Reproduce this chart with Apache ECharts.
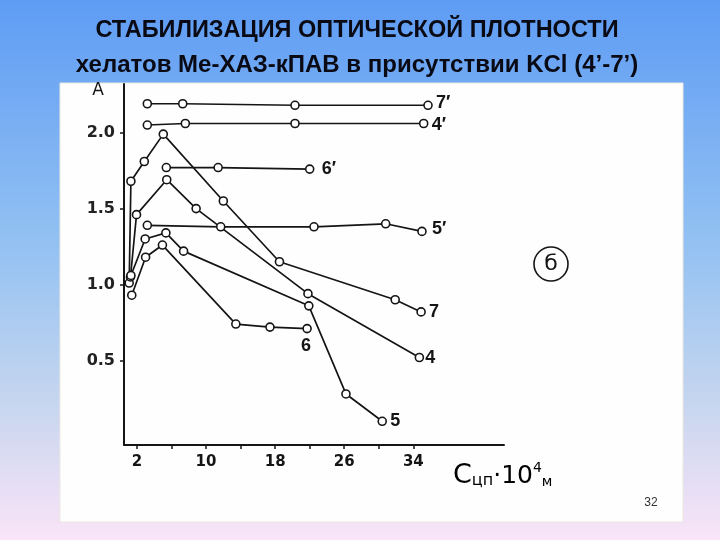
<!DOCTYPE html>
<html><head><meta charset="utf-8">
<script src="https://cdn.jsdelivr.net/npm/echarts@6/dist/echarts.min.js"></script>
<style>html,body{margin:0;padding:0;}#c{width:720px;height:540px;}</style>
</head><body><div id="c"></div>
<script>
// ---- data (x: Сцп·10^4 М, y: optical density A) ----
const s7p = [[3.2,2.19],[7.3,2.19],[20.3,2.18],[35.7,2.18]];
const s4p = [[3.2,2.05],[7.6,2.06],[20.3,2.06],[35.2,2.06]];
const s6p = [[5.4,1.77],[11.4,1.77],[22.0,1.76]];
const s5p = [[3.2,1.39],[11.7,1.38],[22.5,1.38],[30.8,1.40],[35.0,1.35]];
const s7  = [[1.1,1.01],[1.3,1.68],[2.85,1.81],[5.05,1.99],[12.0,1.55],[18.5,1.15],[31.9,0.90],[34.9,0.82]];
const s4  = [[1.25,1.05],[1.95,1.46],[5.45,1.69],[8.85,1.50],[21.8,0.94],[34.7,0.52]];
const s5  = [[1.3,1.06],[2.95,1.30],[5.35,1.34],[7.4,1.22],[21.9,0.86],[26.2,0.28],[30.4,0.10]];
const s6  = [[1.4,0.93],[3.0,1.18],[4.95,1.26],[13.45,0.74],[17.4,0.72],[21.7,0.71]];
const xTicks = [2,6,10,14,18,22,26,30,34];
const xLabels = [2,10,18,26,34];
const yTicks = [0.5,1.0,1.5,2.0];

const chart = echarts.init(document.getElementById('c'));
const INK = '#151515';
function mk(name, data, off){
  return {
    type:'line', name, data, symbol:'circle', symbolSize:8,
    lineStyle:{color:INK, width:1.7},
    itemStyle:{color:'#fff', borderColor:INK, borderWidth:1.6},
    endLabel:{show:true, formatter:name, color:INK, fontFamily:'Liberation Sans, Arial',
      fontSize:18, fontWeight:'bold', distance:8, offset:off||[0,0]},
    z:3
  };
}
chart.setOption({
  animation:false,
  backgroundColor:{type:'linear',x:0,y:0,x2:0,y2:1,colorStops:[
    {offset:0,color:'#5e9cf4'},{offset:0.45,color:'#93c1f2'},
    {offset:0.75,color:'#c7d6ef'},{offset:1,color:'#fae4f8'}]},
  title:[
    {text:'СТАБИЛИЗАЦИЯ ОПТИЧЕСКОЙ ПЛОТНОСТИ', left:352, top:14, textAlign:'center',
     textStyle:{fontFamily:'Liberation Sans, Arial', fontWeight:'bold', fontSize:23.5, color:'#0a0a14'}},
    {text:'хелатов Ме-ХАЗ-кПАВ в присутствии KCl (4’-7’)', left:352, top:48, textAlign:'center',
     textStyle:{fontFamily:'Liberation Sans, Arial', fontWeight:'bold', fontSize:24, color:'#0a0a14'}}
  ],
  graphic:[
    {type:'rect', z:-10, shape:{x:60,y:83,width:623,height:439}, style:{fill:'#fefefe', stroke:'#ece8e0', lineWidth:1}},
    {type:'circle', z:5, shape:{cx:551,cy:264,r:17}, style:{fill:'none', stroke:INK, lineWidth:1.6}},
    {type:'text', z:5, x:551, y:264, style:{text:'б', align:'center', verticalAlign:'middle',
      font:'22px "DejaVu Sans", sans-serif', fill:INK}},
    {type:'text', z:5, x:453, y:461, style:{
      text:'{a|С}{b|цп}{c|·10}{d|4}{e|м}',
      rich:{
        a:{fontSize:27, fontFamily:'DejaVu Sans', color:INK, verticalAlign:'bottom'},
        b:{fontSize:16, fontFamily:'DejaVu Sans', color:INK, verticalAlign:'bottom'},
        c:{fontSize:25, fontFamily:'DejaVu Sans', color:INK, verticalAlign:'bottom'},
        d:{fontSize:14, fontFamily:'DejaVu Sans', color:INK, verticalAlign:'top', padding:[0,0,14,0]},
        e:{fontSize:14, fontFamily:'DejaVu Sans', color:INK, verticalAlign:'bottom'}
      }}},
    {type:'text', z:5, x:651, y:503, style:{text:'32', align:'center', verticalAlign:'middle',
      font:'12px "Liberation Sans", Arial', fill:'#333'}}
  ],
  grid:{left:124, right:216, top:84, bottom:95},
  xAxis:{type:'value', min:0.5, max:44.5,
    axisLine:{onZero:false, lineStyle:{color:INK, width:2}},
    axisTick:{show:true, customValues:xTicks, length:4, inside:false, lineStyle:{color:INK, width:1.5}},
    axisLabel:{customValues:xLabels, color:INK, fontFamily:'DejaVu Sans', fontWeight:'bold', fontSize:15, margin:10},
    splitLine:{show:false}},
  yAxis:{type:'value', min:-0.056, max:2.32,
    name:'A', nameLocation:'end', nameGap:-15,
    nameTextStyle:{color:INK, fontFamily:'DejaVu Sans', fontSize:17, align:'right', padding:[0,20,0,0]},
    axisLine:{onZero:false, lineStyle:{color:INK, width:2}},
    axisTick:{show:true, customValues:yTicks, length:4, lineStyle:{color:INK, width:1.5}},
    axisLabel:{customValues:yTicks, color:'#222', fontFamily:'DejaVu Sans', fontWeight:'bold', fontSize:16, margin:9,
      formatter:v=>v.toFixed(1)},
    splitLine:{show:false}},
  series:[
    mk('7′', s7p, [0,-2]),
    mk('4′', s4p, [0,2]),
    mk('6′', s6p, [4,0]),
    mk('5′', s5p, [2,-2]),
    mk('7', s7, [0,0]),
    mk('4', s4, [-2,1]),
    mk('6', s6, [-14,17]),
    mk('5', s5, [0,0])
  ]
});
</script></body></html>
